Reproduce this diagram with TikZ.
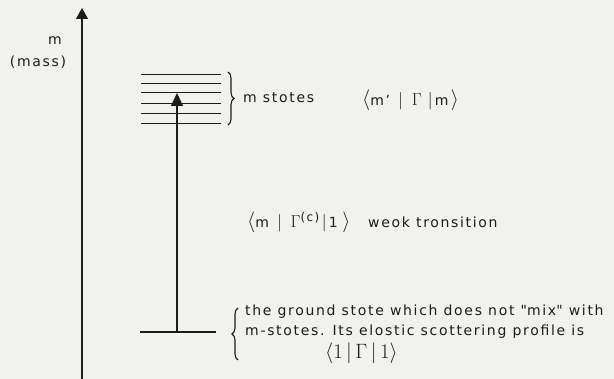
\documentclass[tikz,border=0pt]{standalone}
\usepackage{amsmath}
\usepackage{fontspec}
\setmainfont[LetterSpace=12]{DejaVu Sans}
\usetikzlibrary{arrows.meta, decorations.pathreplacing}
\definecolor{paper}{RGB}{241,241,237}
\definecolor{ink}{RGB}{28,28,28}
% large serif brackets, bars and Gamma among the lettering
\newcommand{\lbr}{{\fontsize{21}{22}\selectfont$\langle$}}
\newcommand{\rbr}{{\fontsize{21}{22}\selectfont$\rangle$}}
\newcommand{\sbar}{{\fontsize{18}{20}\selectfont$|$}}
\newcommand{\GG}{{\fontsize{18}{20}\selectfont$\Gamma$}}

\begin{document}
\begin{tikzpicture}[x=1pt, y=-1pt, font=\fontsize{14}{16}\selectfont, color=ink,
    level/.style={line width=1.6pt},
    axis/.style={-{Triangle[length=11pt,width=12pt]}, line width=1.2pt},
    excite/.style={-{Triangle[length=13pt,width=12pt]}, line width=1.2pt},
    brc/.style={decorate, decoration={brace, amplitude=6pt}, line width=1.1pt},
    lbl/.style={anchor=west, inner sep=0pt}]

  \fill[paper] (0,0) rectangle (614,379);
  \useasboundingbox (0,0) rectangle (614,379);

  % mass axis
  \coordinate (ax0) at (82,379);
  \coordinate (ax1) at (82,8);
  \draw[axis] (ax0) -- (ax1);
  \node (m) at (55,41) {m};
  \node (mass) at (38,62) {(mass)};

  % m states and ground state
  \foreach \y in {74.7,83.7,92.7,103.7,113.7,123.7}
    \draw[level] (141,\y) -- (221,\y);
  \coordinate (gl) at (140,332);
  \coordinate (gr) at (216,332);
  \draw[level] (gl) -- (gr);

  % transition
  \coordinate (g) at (177,332);
  \coordinate (top) at (177,93);
  \draw[excite] (g) -- (top);

  % braces
  \coordinate (b1) at (228,72);
  \coordinate (b2) at (228,125);
  \draw[brc] (b1) -- (b2);
  \coordinate (b3) at (238,360);
  \coordinate (b4) at (238,308);
  \draw[brc] (b3) -- (b4);

  \node[lbl] (mst) at (243,98) {m stotes};
  \node[lbl] (mgm) at (362,100) {\lbr m'\ \,\sbar\ \,\GG\ \sbar\,m\,\rbr};
  \node[lbl] (wk) at (247,222)
    {\lbr m\ \,\sbar\ \,\GG\raisebox{6pt}{\fontsize{12}{14}\selectfont(c)}\,\sbar\,1\,\,\rbr};
  \node[lbl] (wkt) at (368,222) {weok tronsition};
  \node[lbl] (gs1) at (245,312) {the ground stote which does not \textquotedbl mix\textquotedbl\ with};
  \node[lbl] (gs2) at (245,332) {m-stotes. Its elostic scottering profile is};
  \node[lbl, font=\fontsize{21}{23}\selectfont] (gs3) at (325,353) {$\langle 1\,|\,\Gamma\,|\,1\rangle$};
\end{tikzpicture}
\end{document}
